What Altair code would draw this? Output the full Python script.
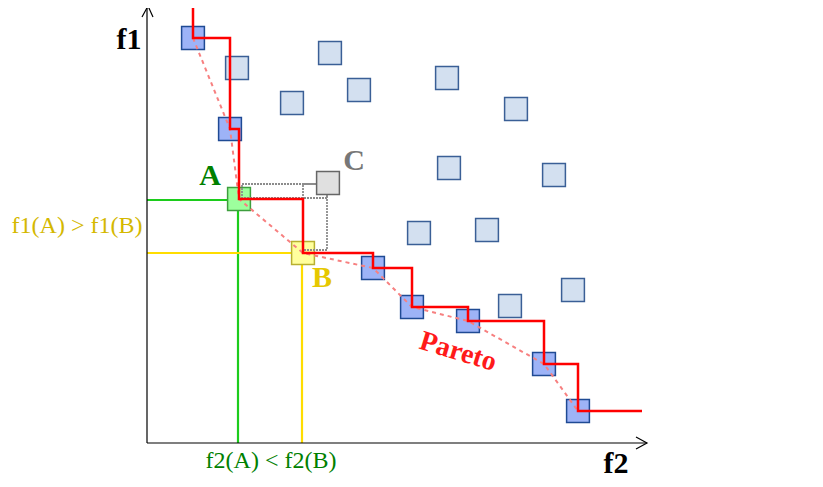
import altair as alt
import pandas as pd

# ---- data (f2 along x, f1 along y) ----
pareto_f2 = [46, 83, 92, 156, 226, 265, 321, 397, 431]
pareto_f1 = [405, 314, 244, 190, 175, 136, 122, 79, 32]
pareto_kind = ["front", "front", "A", "B", "front", "front", "front", "front", "front"]

other_f2 = [90, 183, 145, 212, 300, 369, 302, 407, 272, 340, 363, 426]
other_f1 = [375, 390, 340, 353, 365, 334, 275, 268, 210, 213, 137, 153]

point_c = (181, 260)

step_f2 = [45] + pareto_f2 + [495]
step_f1 = [436] + pareto_f1 + [32]

# guide lines: A (green) and B (yellow)
guide_x = [0, 91, 0, 155]
guide_x2 = [92, 91, 156, 155]
guide_y = [243, 0, 190, 0]
guide_y2 = [243, 244, 190, 190]
guide_col = ["#1ccc1c", "#1ccc1c", "#ffdd00", "#ffdd00"]

# dominance boxes A-C and B-C
box_x = [95, 156]
box_x2 = [180, 180]
box_y = [245, 193]
box_y2 = [259, 259]

# axes and arrowheads
axis_x = [0, 0]
axis_x2 = [500, 0]
axis_y = [0, 0]
axis_y2 = [0, 437]
arrow_f2 = [-5, 1, 6, 489, 500, 489]
arrow_f1 = [426, 437, 426, 6, 0, -6]
arrow_id = [0, 0, 0, 1, 1, 1]

bold_text = ["f1", "f2", "A", "B", "C"]
bold_x = [-18, 469, 63, 175, 207]
bold_y = [394, -30, 258, 156, 273]
bold_col = ["#000000", "#000000", "#008000", "#e6c800", "#777777"]

label_text = ["f1(A) > f1(B)", "f2(A) < f2(B)"]
label_x = [-70, 124]
label_y = [210, -25]
label_col = ["#d4b800", "#008000"]

pareto_label = "Pareto"
pareto_label_pos = (311, 91)

# ---- chart ----
xs = alt.Scale(domain=[-139, 668], nice=False, zero=False)
ys = alt.Scale(domain=[-36, 435], nice=False, zero=False)

def X(f="x"):
    return alt.X(f"{f}:Q", scale=xs, axis=None)

def Y(f="y"):
    return alt.Y(f"{f}:Q", scale=ys, axis=None)

df_p = pd.DataFrame({"x": pareto_f2, "y": pareto_f1, "k": pareto_kind, "i": range(len(pareto_f2))})
df_front = df_p[df_p.k == "front"]
df_A = df_p[df_p.k == "A"]
df_B = df_p[df_p.k == "B"]
df_o = pd.DataFrame({"x": other_f2, "y": other_f1})
df_c = pd.DataFrame({"x": [point_c[0]], "y": [point_c[1]]})
df_step = pd.DataFrame({"x": step_f2, "y": step_f1, "i": range(len(step_f2))})
df_guide = pd.DataFrame({"x": guide_x, "x2": guide_x2, "y": guide_y, "y2": guide_y2, "c": guide_col})
df_box = pd.DataFrame({"x": box_x, "x2": box_x2, "y": box_y, "y2": box_y2})
df_axis = pd.DataFrame({"x": axis_x, "x2": axis_x2, "y": axis_y, "y2": axis_y2})
df_arrow = pd.DataFrame({"x": arrow_f2, "y": arrow_f1, "g": arrow_id, "i": range(len(arrow_f2))})
df_bold = pd.DataFrame({"x": bold_x, "y": bold_y, "t": bold_text, "c": bold_col})
df_lab = pd.DataFrame({"x": label_x, "y": label_y, "t": label_text, "c": label_col})
df_par = pd.DataFrame({"x": [pareto_label_pos[0]], "y": [pareto_label_pos[1]], "t": [pareto_label]})

SQ = 520

guides = alt.Chart(df_guide).mark_rule(strokeWidth=2.2).encode(
    x=X(), x2="x2:Q", y=Y(), y2="y2:Q", color=alt.Color("c:N", scale=None))

light = alt.Chart(df_o).mark_square(size=SQ, fill="#d3e0f0", stroke="#3a5f96", strokeWidth=1.5, opacity=1).encode(x=X(), y=Y())
dark = alt.Chart(df_front).mark_square(size=SQ, fill="#9db3f7", stroke="#1f4a94", strokeWidth=1.5, opacity=1).encode(x=X(), y=Y())
sqA = alt.Chart(df_A).mark_square(size=SQ, fill="#9dff9d", stroke="#3e9e3e", strokeWidth=1.5, opacity=1).encode(x=X(), y=Y())
sqB = alt.Chart(df_B).mark_square(size=SQ, fill="#ffff9d", stroke="#b8b030", strokeWidth=1.5, opacity=1).encode(x=X(), y=Y())

boxes = alt.Chart(df_box).mark_rect(fill=None, stroke="#8c8c8c", strokeWidth=1.8, strokeDash=[2, 1]).encode(
    x=X(), x2="x2:Q", y=Y(), y2="y2:Q")

sqC = alt.Chart(df_c).mark_square(size=SQ, fill="#e0e0e0", stroke="#666666", strokeWidth=1.5, opacity=1).encode(x=X(), y=Y())

dashed = alt.Chart(df_p).mark_line(color="#f78080", strokeWidth=2, strokeDash=[4, 4]).encode(
    x=X(), y=Y(), order="i:Q")

step = alt.Chart(df_step).mark_line(color="#ff0000", strokeWidth=2.5, interpolate="step-after").encode(
    x=X(), y=Y(), order="i:Q")

axes = alt.Chart(df_axis).mark_rule(color="#000000", strokeWidth=1.2).encode(
    x=X(), x2="x2:Q", y=Y(), y2="y2:Q")
arrows = alt.Chart(df_arrow).mark_line(color="#000000", strokeWidth=1.2).encode(
    x=X(), y=Y(), detail="g:N", order="i:Q")

bold = alt.Chart(df_bold).mark_text(font="Liberation Serif", fontWeight="bold", fontSize=30,
                                    align="center", baseline="alphabetic").encode(
    x=X(), y=Y(), text="t:N", color=alt.Color("c:N", scale=None))
labels = alt.Chart(df_lab).mark_text(font="Liberation Serif", fontSize=24,
                                     align="center", baseline="alphabetic").encode(
    x=X(), y=Y(), text="t:N", color=alt.Color("c:N", scale=None))
par = alt.Chart(df_par).mark_text(font="Liberation Serif", fontWeight="bold", fontSize=28, angle=17,
                                  color="#ff1a1a", align="center", baseline="middle").encode(
    x=X(), y=Y(), text="t:N")

chart = alt.layer(guides, light, dark, sqA, sqB, boxes, sqC, dashed, step, axes, arrows, bold, labels, par).properties(
    width=807, height=471, padding=0, autosize="none"
).configure_view(strokeWidth=0)

chart.save("out.html", embed_options={"renderer": "svg", "actions": False})
